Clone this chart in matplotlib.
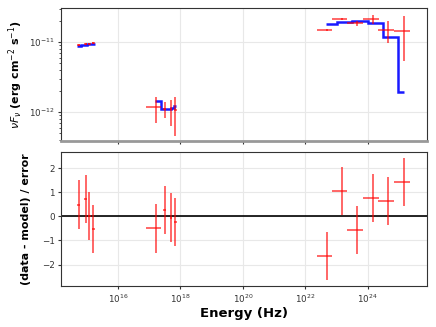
import numpy as np
import matplotlib
matplotlib.use("Agg")
import matplotlib.pyplot as plt

# ---- data (log10 energy in Hz, log10 nuFnu) ----
opt_logE = [14.74, 14.96, 15.07, 15.20]
opt_logF = [-11.033, -11.025, -11.018, -11.013]
opt_res = [0.49, 0.72, 0.0, -0.51]

xr_logE = [17.20, 17.50, 17.69, 17.84]
xr_logE_lo = [16.88, 17.45, 17.65, 17.80]
xr_logE_hi = [17.39, 17.55, 17.73, 17.88]
xr_logF = [-11.924, -11.957, -11.953, -11.970]
xr_logF_lo = [-12.15, -12.08, -12.19, -12.34]
xr_logF_hi = [-11.78, -11.85, -11.82, -11.78]
xr_res = [-0.50, 0.28, -0.05, -0.24]

g_logE = [22.69, 23.18, 23.66, 24.18, 24.66, 25.17]
g_logE_lo = [22.37, 22.86, 23.34, 23.86, 24.34, 24.85]
g_logE_hi = [22.86, 23.35, 23.84, 24.35, 24.84, 25.35]
g_logF = [-10.82, -10.67, -10.72, -10.67, -10.82, -10.84]
g_logF_lo = [-10.835, -10.685, -10.77, -10.74, -11.01, -11.27]
g_logF_hi = [-10.805, -10.655, -10.69, -10.61, -10.70, -10.62]
g_res = [-1.64, 1.07, -0.57, 0.77, 0.63, 1.42]

mod_opt_edges = [14.69, 14.80, 15.00, 15.27]
mod_opt_vals = [-11.053, -11.033, -11.019]
mod_xr_edges = [17.18, 17.36, 17.52, 17.68, 17.78, 17.85]
mod_xr_vals = [-11.84, -11.96, -11.955, -11.944, -11.91]
mod_g_edges = [22.67, 23.01, 23.50, 24.00, 24.50, 24.99, 25.17]
mod_g_vals = [-10.74, -10.704, -10.70, -10.73, -10.92, -11.71]

xticks_log = [16, 18, 20, 22, 24]
yticks_top_log = [-12, -11]

fig = plt.figure(figsize=(4.36, 3.27), dpi=100)
ax1 = fig.add_axes([0.14, 0.569, 0.839, 0.4065])
ax2 = fig.add_axes([0.14, 0.1254, 0.839, 0.4096])

red = (1, 0, 0, 0.6)
blue = (0, 0, 1, 0.9)
tickc = '#333333'

def P(v):
    return np.power(10.0, np.asarray(v, dtype=float))

def errs(c, lo, hi):
    c, lo, hi = P(c), P(lo), P(hi)
    return np.vstack([c - lo, hi - c])

# top panel
oE = P(opt_logE)
oF = P(opt_logF)
ax1.errorbar(oE, oF, xerr=[oE * (1 - 10**-0.05), oE * (10**0.05 - 1)],
             yerr=[oF * (1 - 10**-0.015), oF * (10**0.015 - 1)],
             fmt='none', ecolor=red, elinewidth=1.4, zorder=3)
ax1.errorbar(P(xr_logE), P(xr_logF), xerr=errs(xr_logE, xr_logE_lo, xr_logE_hi),
             yerr=errs(xr_logF, xr_logF_lo, xr_logF_hi),
             fmt='none', ecolor=red, elinewidth=1.4, zorder=3)
ax1.errorbar(P(g_logE), P(g_logF), xerr=errs(g_logE, g_logE_lo, g_logE_hi),
             yerr=errs(g_logF, g_logF_lo, g_logF_hi),
             fmt='none', ecolor=red, elinewidth=1.4, zorder=3)
for ed, vals in [(mod_opt_edges, mod_opt_vals), (mod_xr_edges, mod_xr_vals), (mod_g_edges, mod_g_vals)]:
    ax1.stairs(P(vals), P(ed), color=blue, linewidth=1.8, baseline=None, zorder=2)

ax1.set_xscale('log')
ax1.set_yscale('log')
ax1.set_xlim(10**14.17, 10**25.9)
ax1.set_ylim(10**-12.41, 10**-10.51)
ax1.set_xticks(P(xticks_log))
ax1.set_xticklabels([])
ax1.set_yticks(P(yticks_top_log))
ax1.set_yticklabels([r'$10^{-12}$', r'$10^{-11}$'])
ax1.xaxis.set_minor_locator(matplotlib.ticker.NullLocator())
ax1.yaxis.set_minor_formatter(matplotlib.ticker.NullFormatter())
ax1.grid(True, color='#e8e8e8', linewidth=0.8)
ax1.set_axisbelow(True)
ax1.set_ylabel(r'$\nu F_\nu$ (erg cm$^{-2}$ s$^{-1}$)', fontsize=7.9, fontweight='bold', labelpad=3)
ax1.tick_params(labelsize=6.3, labelcolor=tickc, colors=tickc, length=2.5, pad=2)
ax1.tick_params(which='minor', length=1.5, colors=tickc)
for s in ['left', 'top', 'right']:
    ax1.spines[s].set_color('#333333')
ax1.spines['bottom'].set_color('#999999')
ax1.spines['bottom'].set_linewidth(2)

# bottom panel
ax2.errorbar(oE, opt_res, xerr=[oE * (1 - 10**-0.05), oE * (10**0.05 - 1)], yerr=1,
             fmt='none', ecolor=red, elinewidth=1.4, zorder=3)
ax2.errorbar(P(xr_logE), xr_res, xerr=errs(xr_logE, xr_logE_lo, xr_logE_hi), yerr=1,
             fmt='none', ecolor=red, elinewidth=1.4, zorder=3)
ax2.errorbar(P(g_logE), g_res, xerr=errs(g_logE, g_logE_lo, g_logE_hi), yerr=1,
             fmt='none', ecolor=red, elinewidth=1.4, zorder=3)
ax2.axhline(0, color='black', linewidth=1.2, zorder=2)
ax2.set_xscale('log')
ax2.set_xlim(10**14.17, 10**25.9)
ax2.set_ylim(-2.89, 2.67)
ax2.set_xticks(P(xticks_log))
ax2.xaxis.set_minor_locator(matplotlib.ticker.NullLocator())
ax2.set_yticks([-2, -1, 0, 1, 2])
ax2.grid(True, color='#e8e8e8', linewidth=0.8)
ax2.set_axisbelow(True)
ax2.tick_params(labelsize=6.3, labelcolor=tickc, colors=tickc, length=2.5, pad=2)
ax2.set_xlabel('Energy (Hz)', fontsize=9.5, fontweight='bold', labelpad=2)
ax2.set_ylabel('(data - model) / error', fontsize=7.9, fontweight='bold', labelpad=8)
for s in ax2.spines.values():
    s.set_color('#333333')

fig.savefig('out.png', dpi=100)
